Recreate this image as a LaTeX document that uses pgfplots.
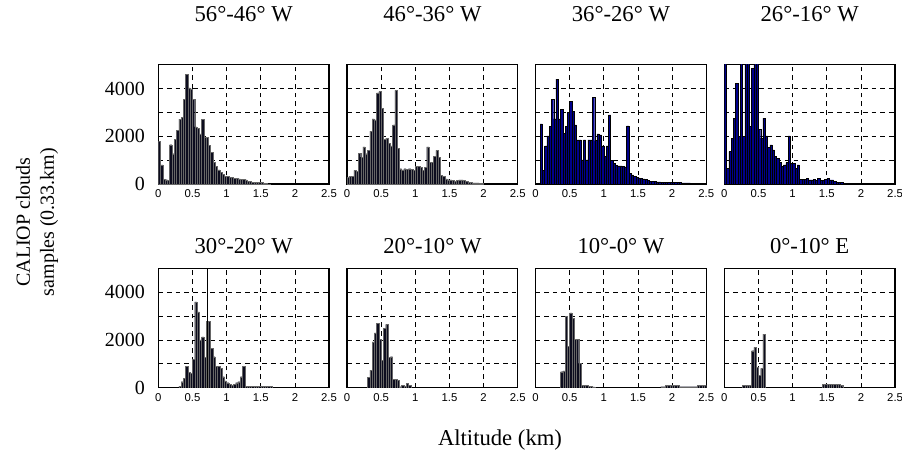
\documentclass[border=0pt]{standalone}
\usepackage{fontspec}
\setmainfont{Liberation Serif}
\newfontfamily\arial{Liberation Sans}
\usepackage{pgfplots}
\usepackage{pgfplotstable}
\pgfplotsset{compat=1.18}

\definecolor{navybar}{RGB}{0,0,140}
\definecolor{darkbar}{RGB}{12,12,30}

% CALIOP cloud samples per 1/30 km altitude bin (bin index, count)
\pgfplotstableread{
bin n
0 1800
1 800
2 200
3 180
4 160
5 1650
6 1270
7 1870
8 2260
9 2720
10 2790
11 3560
12 4600
13 4030
14 3990
15 3560
16 2400
17 2330
18 2100
19 2720
20 1950
21 1950
22 1620
23 1340
24 920
25 730
26 590
27 500
28 400
29 330
30 310
31 290
32 270
33 250
34 230
35 220
36 200
37 190
38 170
39 120
40 100
41 80
42 80
43 70
44 70
45 60
46 40
47 20
48 10
}\pone
\pgfplotstableread{
bin n
0 300
1 310
2 310
3 570
4 540
5 1300
6 1130
7 1560
8 1270
9 1410
10 2220
11 2730
12 2690
13 3820
14 3890
15 3180
16 1870
17 1910
18 1700
19 1600
20 2480
21 3930
22 1490
23 640
24 590
25 640
26 610
27 640
28 610
29 570
30 750
31 750
32 710
33 570
34 710
35 1560
36 920
37 920
38 1160
39 1410
40 1130
41 350
42 310
43 210
44 180
45 170
46 140
47 110
48 140
49 170
50 170
51 140
52 110
53 70
54 60
55 50
56 50
57 50
58 40
59 40
}\ptwo
\pgfplotstableread{
bin n
2 2520
3 560
4 1600
5 2020
6 2410
7 3560
8 2730
9 4400
10 2730
11 3140
12 2130
13 2410
14 3000
15 3460
16 3040
17 2480
18 1850
19 1850
20 1010
21 1850
22 1010
23 1850
24 1850
25 3630
26 1820
27 2100
28 2060
29 1600
30 1150
31 1600
32 2900
33 1000
34 870
35 780
36 760
37 760
38 730
39 720
40 2440
41 450
42 380
43 310
44 290
45 260
46 240
47 220
48 200
49 150
50 120
51 100
52 100
53 90
54 90
55 80
56 80
57 70
58 70
59 70
60 60
61 60
62 60
63 60
64 50
65 50
66 50
67 50
68 40
69 40
70 40
71 30
}\pthree
\pgfplotstableread{
bin n
0 5200
1 660
2 1360
3 1920
4 2760
5 4230
6 1990
7 5200
8 1990
9 5200
10 5200
11 2410
12 4860
13 5200
14 5200
15 2300
16 1920
17 2760
18 2020
19 1540
20 1640
21 1430
22 1150
23 1080
24 900
25 730
26 800
27 900
28 2020
29 870
30 870
31 660
32 800
33 200
34 200
35 200
36 240
37 170
38 170
39 200
40 140
41 240
42 140
43 140
44 200
45 240
46 170
47 170
48 100
49 70
50 60
51 60
52 40
53 30
}\pfour
\pgfplotstableread{
bin n
9 70
10 250
11 390
12 900
13 630
14 600
15 1190
16 3600
17 3180
18 2000
19 2130
20 1270
21 2790
22 2790
23 1650
24 1300
25 900
26 900
27 810
28 460
29 290
30 210
31 140
32 110
33 150
34 210
35 250
36 460
37 900
38 70
39 60
40 60
41 60
42 60
43 60
44 60
45 60
46 60
47 60
48 60
49 60
}\pfive
\pgfplotstableread{
bin n
9 430
10 740
11 1920
12 2300
13 2690
14 2020
15 1160
16 2480
17 2650
18 1270
19 1300
20 360
21 360
22 320
23 40
24 100
25 70
26 180
27 110
}\psix
\pgfplotstableread{
bin n
11 670
12 700
13 3000
14 1740
15 3140
16 2900
17 2040
18 2040
19 1020
20 110
21 110
22 90
23 70
24 70
25 30
55 40
56 40
57 110
58 110
59 110
60 110
61 110
62 110
63 40
64 40
65 40
66 40
67 40
68 40
69 40
70 40
71 110
72 110
73 110
74 110
}\pseven
\pgfplotstableread{
bin n
8 110
9 110
10 110
11 110
12 1550
13 1690
14 850
15 530
16 810
17 2250
43 150
44 150
45 140
46 140
47 140
48 140
49 140
50 140
51 100
}\peight

\pgfplotsset{
  panel/.style={
    scale only axis, width=128.1pt, height=89.4pt, anchor=south west,
    xmin=0, xmax=2.5, ymin=0, ymax=5000,
    xtick={0,0.5,1,1.5,2,2.5}, xticklabels={0,0.5,1,1.5,2,2.5},
    ytick={0,1000,2000,3000,4000,5000}, yticklabels={},
    grid=major,
    major grid style={black, line width=0.5pt, dash pattern=on 3.5pt off 3pt},
    axis line style={black, line width=0.9pt},
    major tick length=0pt,
    xticklabel style={font=\arial\fontsize{8.5}{10}\selectfont, yshift=-1pt},
    yticklabel style={font=\fontsize{15}{18}\selectfont, xshift=-6.5pt},
    title style={font=\fontsize{17}{20}\selectfont, at={(0.5,1)}, anchor=base},
  },
  toprow/.style={title style={yshift=26.25pt}},
  botrow/.style={title style={yshift=5.25pt}},
  firstcol/.style={yticklabels={0,,2000,,4000,}},
  darkbars/.style={ybar, bar width=0.0333, fill=darkbar, draw=black!60, line width=0.25pt},
  bluebars/.style={ybar, bar width=0.0333, fill=navybar, draw=black, line width=0.25pt},
}

\begin{document}
\begin{tikzpicture}
\path[use as bounding box] (0,0) rectangle (676.5pt,341.25pt);

% top row
\begin{axis}[panel, toprow, firstcol, at={(118.7pt,203.25pt)}, title={56°-46° W}]
\addplot[darkbars] table[x expr={(\thisrow{bin}+0.5)/30}, y=n] {\pone};
\end{axis}
\begin{axis}[panel, toprow, at={(260.25pt,203.25pt)}, title={46°-36° W}]
\addplot[darkbars] table[x expr={(\thisrow{bin}+0.5)/30}, y=n] {\ptwo};
\end{axis}
\begin{axis}[panel, toprow, at={(401.6pt,203.25pt)}, title={36°-26° W}]
\addplot[bluebars] table[x expr={(\thisrow{bin}+0.5)/30}, y=n] {\pthree};
\end{axis}
\begin{axis}[panel, toprow, at={(543.2pt,203.25pt)}, title={26°-16° W}]
\addplot[bluebars] table[x expr={(\thisrow{bin}+0.5)/30}, y=n] {\pfour};
\end{axis}

% bottom row
\begin{axis}[panel, botrow, firstcol, at={(118.7pt,50.5pt)}, title={30°-20° W}]
\addplot[darkbars] table[x expr={(\thisrow{bin}+0.5)/30}, y=n] {\pfive};
\addplot[ybar, bar width=0.004, fill=black, draw=black, line width=0.3pt] coordinates {(0.72,5200)};
\end{axis}
\begin{axis}[panel, botrow, at={(260.25pt,50.5pt)}, title={20°-10° W}]
\addplot[darkbars] table[x expr={(\thisrow{bin}+0.5)/30}, y=n] {\psix};
\end{axis}
\begin{axis}[panel, botrow, at={(401.6pt,50.5pt)}, title={10°-0° W}]
\addplot[darkbars] table[x expr={(\thisrow{bin}+0.5)/30}, y=n] {\pseven};
\end{axis}
\begin{axis}[panel, botrow, at={(543.2pt,50.5pt)}, title={0°-10° E}]
\addplot[darkbars] table[x expr={(\thisrow{bin}+0.5)/30}, y=n] {\peight};
\end{axis}

\node[rotate=90, align=center, font=\fontsize{15}{18}\selectfont] at (27.75pt,174.75pt)
  {CALIOP clouds\\samples (0.33.km)};
\node[font=\fontsize{17}{20}\selectfont] at (375pt,11.25pt) {Altitude (km)};
\end{tikzpicture}
\end{document}
